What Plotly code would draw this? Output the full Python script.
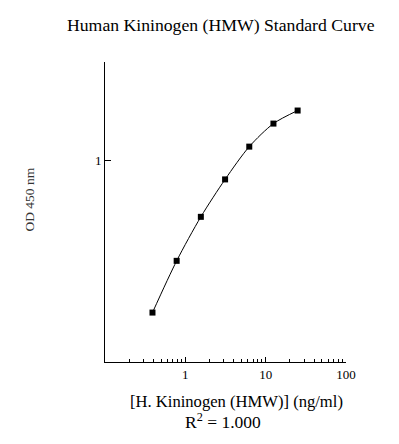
import plotly.graph_objects as go

# Data
concentration = [0.39, 0.78, 1.56, 3.125, 6.25, 12.5, 25]   # ng/ml
od450 = [0.176, 0.318, 0.526, 0.807, 1.174, 1.528, 1.774]

x_tickvals = [1, 10, 100]
x_ticktext = ["1", "10", "100"]
y_tickvals = [1]
y_ticktext = ["1"]
minor_vals = [m * d for d in (0.1, 1, 10) for m in range(2, 10)]

title_text = "Human Kininogen (HMW) Standard Curve"
x_title = "[H. Kininogen (HMW)] (ng/ml)"
y_title = "OD 450 nm"
r2_text = "R<sup>2</sup> = 1.000"

FONT = "Liberation Serif, Times New Roman, serif"

fig = go.Figure()
fig.add_trace(go.Scatter(
    x=concentration, y=od450, mode="lines+markers",
    line=dict(color="black", width=1, shape="spline", smoothing=0.8),
    marker=dict(symbol="square", size=6, color="black"),
    showlegend=False, hoverinfo="x+y",
))

# page body has an 8px margin, so the figure is sized/offset to compensate
fig.update_layout(
    width=391, height=436,
    margin=dict(l=97, r=53, t=54, b=82),
    paper_bgcolor="white", plot_bgcolor="white",
    font=dict(family=FONT, color="black", size=13),
    showlegend=False,
)
fig.update_xaxes(
    type="log", range=[-1, 2],
    tickmode="array", tickvals=x_tickvals, ticktext=x_ticktext,
    ticks="inside", ticklen=5, tickcolor="black", tickwidth=1,
    minor=dict(tickmode="array", tickvals=minor_vals, ticks="inside",
               ticklen=3, tickcolor="black", tickwidth=1, showgrid=False),
    showline=True, linecolor="black", linewidth=1,
    showgrid=False, zeroline=False,
    tickfont=dict(size=13, family=FONT),
)
fig.update_yaxes(
    type="log", range=[-1, 0.49],
    tickmode="array", tickvals=y_tickvals, ticktext=y_ticktext,
    ticks="inside", ticklen=6, tickcolor="black", tickwidth=1,
    showline=True, linecolor="black", linewidth=1,
    showgrid=False, zeroline=False,
    tickfont=dict(size=13, family=FONT),
)

def font(size, color="black"):
    return dict(family=FONT, color=color, size=size)

fig.add_annotation(text=title_text, x=0.481, y=1.123, xref="paper", yref="paper",
                   showarrow=False, xanchor="center", yanchor="middle", font=font(17.7))
fig.add_annotation(text=x_title, x=0.544, y=-0.133, xref="paper", yref="paper",
                   showarrow=False, xanchor="center", yanchor="middle", font=font(16.6))
fig.add_annotation(text=r2_text, x=0.49, y=-0.198, xref="paper", yref="paper",
                   showarrow=False, xanchor="center", yanchor="middle", font=font(17.5))
fig.add_annotation(text=y_title, x=-0.317, y=0.54, xref="paper", yref="paper",
                   showarrow=False, xanchor="center", yanchor="middle", textangle=-90,
                   font=font(13.5, "#333333"))

fig.write_html("out.html")
